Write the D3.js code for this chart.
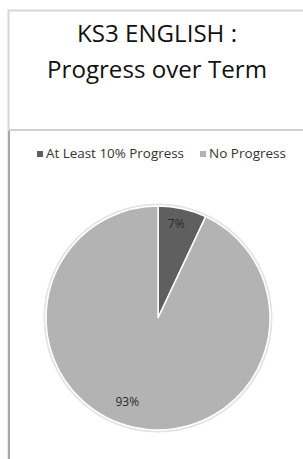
<!DOCTYPE html>
<html>
<head>
<meta charset="utf-8">
<script src="https://cdn.jsdelivr.net/npm/d3@7"></script>
<style>
  body { margin: 0; background: #fff; }
  svg { display: block; }
</style>
</head>
<body>
<div id="chart"></div>
<script>
const titleLines = ['KS3 ENGLISH :', 'Progress over Term']
const categories = ['At Least 10% Progress', 'No Progress']
const values = [7, 93]
const colors = ['#5f5f5f', '#b3b3b3']

const width = 303
const height = 459
const font = "'Open Sans', 'Liberation Sans', sans-serif"

const svg = d3.select('#chart')
  .append('svg')
  .attr('width', width)
  .attr('height', height)

// frame: title box on top, chart box below
svg.append('path')
  .attr('d', `M8.5,${height} V10.5 H${width}`)
  .attr('fill', 'none')
  .attr('stroke', '#d6d6d6')
  .attr('stroke-width', 2)
svg.append('line')
  .attr('x1', 8).attr('x2', width)
  .attr('y1', 130).attr('y2', 130)
  .attr('stroke', '#d0d0d0').attr('stroke-width', 2)
svg.append('line')
  .attr('x1', 9).attr('x2', 9)
  .attr('y1', 131).attr('y2', height)
  .attr('stroke', '#a8a8a8').attr('stroke-width', 2)

const titleWidths = [160, 220]
svg.append('g')
  .selectAll('text')
  .data(titleLines)
  .join('text')
  .attr('x', 157)
  .attr('y', (d, i) => 42 + i * 36)
  .attr('text-anchor', 'middle')
  .attr('font-family', font)
  .attr('font-size', 23.5)
  .attr('fill', '#111')
  .attr('textLength', (d, i) => titleWidths[i])
  .attr('lengthAdjust', 'spacingAndGlyphs')
  .text(d => d)

// legend
const legend = svg.append('g').attr('font-family', font).attr('font-size', 12).attr('fill', '#333')
const legendX = [37, 200]
const legendW = [138, 77]
const items = legend.selectAll('g')
  .data(categories)
  .join('g')
  .attr('transform', (d, i) => `translate(${legendX[i]},154)`)
items.append('rect')
  .attr('x', 0).attr('y', -3)
  .attr('width', 6).attr('height', 6)
  .attr('fill', (d, i) => colors[i])
items.append('text')
  .attr('x', 9).attr('y', 0)
  .attr('dy', '0.35em')
  .attr('textLength', (d, i) => legendW[i])
  .attr('lengthAdjust', 'spacingAndGlyphs')
  .text(d => d)

// pie
const cx = 158, cy = 318, radius = 112
const pie = d3.pie().sort(null).value(d => d)
const arcs = pie(values)
const arc = d3.arc().innerRadius(0).outerRadius(radius)
const g = svg.append('g').attr('transform', `translate(${cx},${cy})`)

g.append('circle')
  .attr('r', radius + 1.5)
  .attr('fill', 'none')
  .attr('stroke', '#e4e4e4')
  .attr('stroke-width', 2)

g.selectAll('path')
  .data(arcs)
  .join('path')
  .attr('d', arc)
  .attr('fill', (d, i) => colors[i])
  .attr('stroke', '#fff')
  .attr('stroke-width', 1.5)

const labelR = [0.86, 0.8]
const labelShift = [0.03, -0.13]
g.selectAll('text')
  .data(arcs)
  .join('text')
  .attr('transform', (d, i) => {
    const a = (d.startAngle + d.endAngle) / 2 - labelShift[i]
    const r = radius * labelR[i]
    return `translate(${r * Math.sin(a)},${-r * Math.cos(a)})`
  })
  .attr('text-anchor', 'middle')
  .attr('dy', '0.35em')
  .attr('font-family', font)
  .attr('font-size', 12)
  .attr('fill', '#2b2b2b')
  .text(d => d.data + '%')
</script>
</body>
</html>
